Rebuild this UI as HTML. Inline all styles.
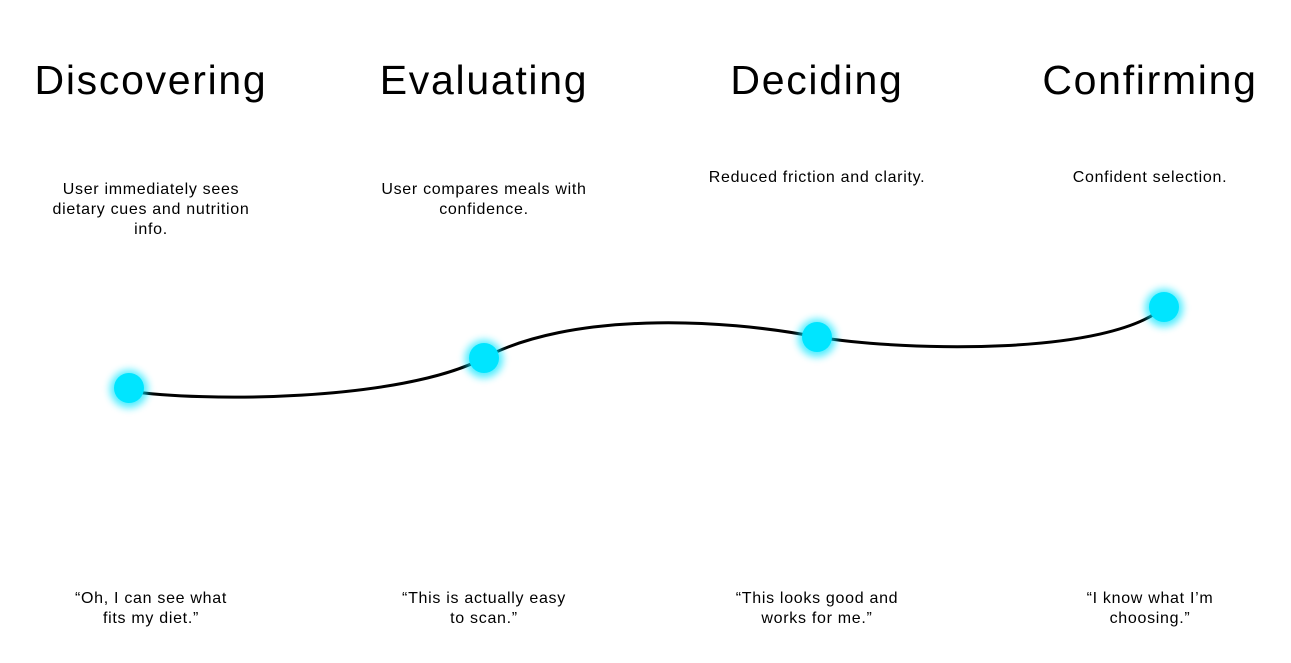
<!DOCTYPE html>
<html><head><meta charset="utf-8"><style>
body{margin:0;width:1291px;height:663px;background:#fff;overflow:hidden;position:relative;font-family:"Liberation Sans",sans-serif;color:#000}
.t{position:absolute;top:57px;font-size:41px;text-align:center;width:400px;margin-left:-200px;letter-spacing:1.7px;white-space:nowrap}
.d{position:absolute;font-size:16px;line-height:20px;text-align:center;width:300px;margin-left:-150px;letter-spacing:0.7px;white-space:nowrap}
</style></head><body>
<svg width="1291" height="663" style="position:absolute;left:0;top:0">
<defs><filter id="g" x="-1" y="-1" width="3" height="3"><feGaussianBlur stdDeviation="4"/></filter></defs>
<path d="M129,391 C200,402 400,402 484,358 C570,312 720,318 817,337 C910,352 1110,355 1164,307" fill="none" stroke="#000" stroke-width="3"/>
<g fill="#00e5ff">
<circle cx="129" cy="389" r="19" filter="url(#g)" opacity="0.7"/><circle cx="129" cy="388" r="15"/>
<circle cx="484" cy="359" r="19" filter="url(#g)" opacity="0.7"/><circle cx="484" cy="358" r="15"/>
<circle cx="817" cy="338" r="19" filter="url(#g)" opacity="0.7"/><circle cx="817" cy="337" r="15"/>
<circle cx="1164" cy="308" r="19" filter="url(#g)" opacity="0.7"/><circle cx="1164" cy="307" r="15"/>
</g></svg>
<div class="t" style="left:151px">Discovering</div>
<div class="t" style="left:484px">Evaluating</div>
<div class="t" style="left:817px">Deciding</div>
<div class="t" style="left:1150px">Confirming</div>
<div class="d" style="left:151px;top:180px">User immediately sees<br>dietary cues and nutrition<br>info.</div>
<div class="d" style="left:484px;top:180px">User compares meals with<br>confidence.</div>
<div class="d" style="left:817px;top:168px">Reduced friction and clarity.</div>
<div class="d" style="left:1150px;top:168px">Confident selection.</div>
<div class="d" style="left:151px;top:589px">“Oh, I can see what<br>fits my diet.”</div>
<div class="d" style="left:484px;top:589px">“This is actually easy<br>to scan.”</div>
<div class="d" style="left:817px;top:589px">“This looks good and<br>works for me.”</div>
<div class="d" style="left:1150px;top:589px">“I know what I’m<br>choosing.”</div>
</body></html>
